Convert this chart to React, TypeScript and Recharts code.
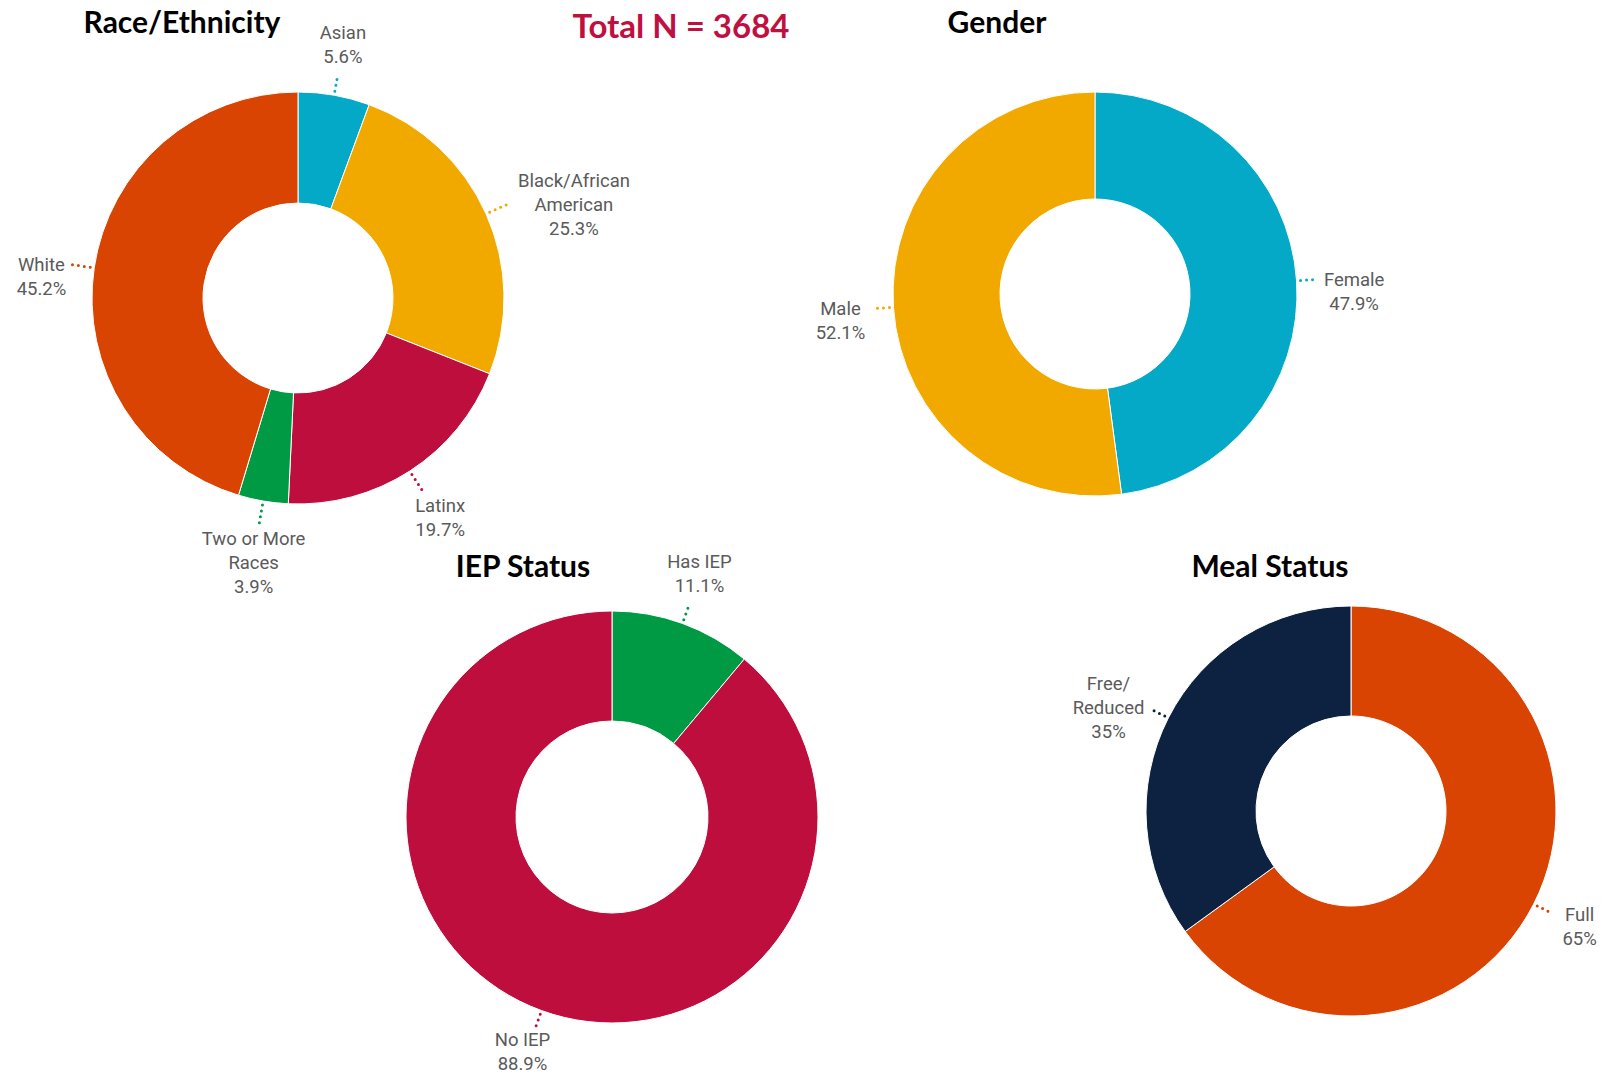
import React from "react";
import { PieChart, Pie, Cell } from "recharts";

const W = 1612;
const H = 1077;

// ---- Data ----
const raceLabels = ["Asian", "Black/African\nAmerican", "Latinx", "Two or More\nRaces", "White"];
const raceValues = [5.6, 25.3, 19.7, 3.9, 45.2];
const raceText = ["5.6%", "25.3%", "19.7%", "3.9%", "45.2%"];

const genderLabels = ["Female", "Male"];
const genderValues = [47.9, 52.1];
const genderText = ["47.9%", "52.1%"];

const iepLabels = ["Has IEP", "No IEP"];
const iepValues = [11.1, 88.9];
const iepText = ["11.1%", "88.9%"];

const mealLabels = ["Full", "Free/\nReduced"];
const mealValues = [65, 35];
const mealText = ["65%", "35%"];

const totalN = 3684;

// ---- Styles ----
const TEAL = "#03A9C7";
const AMBER = "#F1A900";
const CRIMSON = "#BE0E3D";
const GREEN = "#009A44";
const ORANGE = "#D94402";
const NAVY = "#0D2240";

const raceColors = [TEAL, AMBER, CRIMSON, GREEN, ORANGE];
const genderColors = [TEAL, AMBER];
const iepColors = [GREEN, CRIMSON];
const mealColors = [ORANGE, NAVY];

const build = (labels: string[], values: number[], texts: string[]) =>
  labels.map((l, i) => ({ name: l, value: values[i], pctText: texts[i] }));

const raceData = build(raceLabels, raceValues, raceText);
const genderData = build(genderLabels, genderValues, genderText);
const iepData = build(iepLabels, iepValues, iepText);
const mealData = build(mealLabels, mealValues, mealText);

const RAD = Math.PI / 180;
const LH = 24;
const FS = 18.5;

const renderLabel = (props: any) => {
  const { cx, cy, midAngle, outerRadius, fill } = props;
  const pl = props.payload ?? {};
  const name: string = pl.name ?? props.name ?? "";
  const pctText: string = pl.pctText ?? props.pctText ?? "";
  const dx = Math.cos(-midAngle * RAD);
  const dy = Math.sin(-midAngle * RAD);
  const x1 = cx + (outerRadius + 4) * dx;
  const y1 = cy + (outerRadius + 4) * dy;
  const x2 = cx + (outerRadius + 22) * dx;
  const y2 = cy + (outerRadius + 22) * dy;
  const lines = [...name.split("\n"), pctText];
  const n = lines.length;
  const maxLen = Math.max(...lines.map((l) => l.length));
  const width = maxLen * 9.2;
  let tx: number;
  let firstY: number;
  if (Math.abs(dx) >= 0.8) {
    tx = x2 + Math.sign(dx) * (8 + width / 2);
    firstY = y2 - Math.floor((n - 1) / 2) * LH;
  } else if (dy < 0) {
    tx = x2 + dx * 28;
    firstY = y2 - 17 - (n - 1) * LH;
  } else {
    tx = x2 + dx * 34;
    // keep the whole block inside the picture
    firstY = Math.min(y2 + 16, H - 13 - (n - 1) * LH);
  }
  return (
    <g>
      <line
        x1={x1}
        y1={y1}
        x2={x2}
        y2={y2}
        stroke={fill}
        strokeWidth={3}
        strokeLinecap="round"
        strokeDasharray="0 6"
      />
      <text
        textAnchor="middle"
        fill="#5a5a5a"
        fontFamily="Roboto, 'Noto Sans', sans-serif"
        fontSize={FS}
      >
        {lines.map((l, i) => (
          <tspan key={i} x={tx} y={firstY + i * LH} dy="0.35em">
            {l}
          </tspan>
        ))}
      </text>
    </g>
  );
};

const titleStyle = (
  cx: number,
  cy: number,
  color = "#000",
  size = 30
): React.CSSProperties => ({
  position: "absolute",
  left: cx - 200,
  top: cy - 20,
  width: 400,
  height: 40,
  lineHeight: "40px",
  textAlign: "center",
  fontFamily: "Lato, 'Open Sans', sans-serif",
  fontWeight: 700,
  fontSize: size,
  color,
  whiteSpace: "nowrap",
});

export default function App() {
  return (
    <div
      style={{
        position: "absolute",
        left: 0,
        top: 0,
        width: W,
        height: H,
        background: "#fff",
        overflow: "hidden",
      }}
    >
      <PieChart width={W} height={H} margin={{ top: 0, right: 0, bottom: 0, left: 0 }}>
        <Pie
          data={raceData}
          dataKey="value"
          nameKey="name"
          cx={298}
          cy={298}
          innerRadius={95}
          outerRadius={206}
          startAngle={90}
          endAngle={-270}
          stroke="#fff"
          strokeWidth={1}
          label={renderLabel}
          labelLine={false}
          isAnimationActive={false}
        >
          {raceData.map((_, i) => (
            <Cell key={i} fill={raceColors[i]} />
          ))}
        </Pie>
        <Pie
          data={genderData}
          dataKey="value"
          nameKey="name"
          cx={1095}
          cy={294}
          innerRadius={95}
          outerRadius={202}
          startAngle={90}
          endAngle={-270}
          stroke="#fff"
          strokeWidth={1}
          label={renderLabel}
          labelLine={false}
          isAnimationActive={false}
        >
          {genderData.map((_, i) => (
            <Cell key={i} fill={genderColors[i]} />
          ))}
        </Pie>
        <Pie
          data={iepData}
          dataKey="value"
          nameKey="name"
          cx={612}
          cy={817}
          innerRadius={96}
          outerRadius={206}
          startAngle={90}
          endAngle={-270}
          stroke="#fff"
          strokeWidth={1}
          label={renderLabel}
          labelLine={false}
          isAnimationActive={false}
        >
          {iepData.map((_, i) => (
            <Cell key={i} fill={iepColors[i]} />
          ))}
        </Pie>
        <Pie
          data={mealData}
          dataKey="value"
          nameKey="name"
          cx={1351}
          cy={811}
          innerRadius={95}
          outerRadius={205}
          startAngle={90}
          endAngle={-270}
          stroke="#fff"
          strokeWidth={1}
          label={renderLabel}
          labelLine={false}
          isAnimationActive={false}
        >
          {mealData.map((_, i) => (
            <Cell key={i} fill={mealColors[i]} />
          ))}
        </Pie>
      </PieChart>
      <div style={titleStyle(182, 21)}>Race/Ethnicity</div>
      <div style={titleStyle(681, 25, "#C0103F", 33)}>{`Total N = ${totalN}`}</div>
      <div style={titleStyle(997, 21)}>Gender</div>
      <div style={titleStyle(523, 565)}>IEP Status</div>
      <div style={titleStyle(1270, 565)}>Meal Status</div>
    </div>
  );
}
